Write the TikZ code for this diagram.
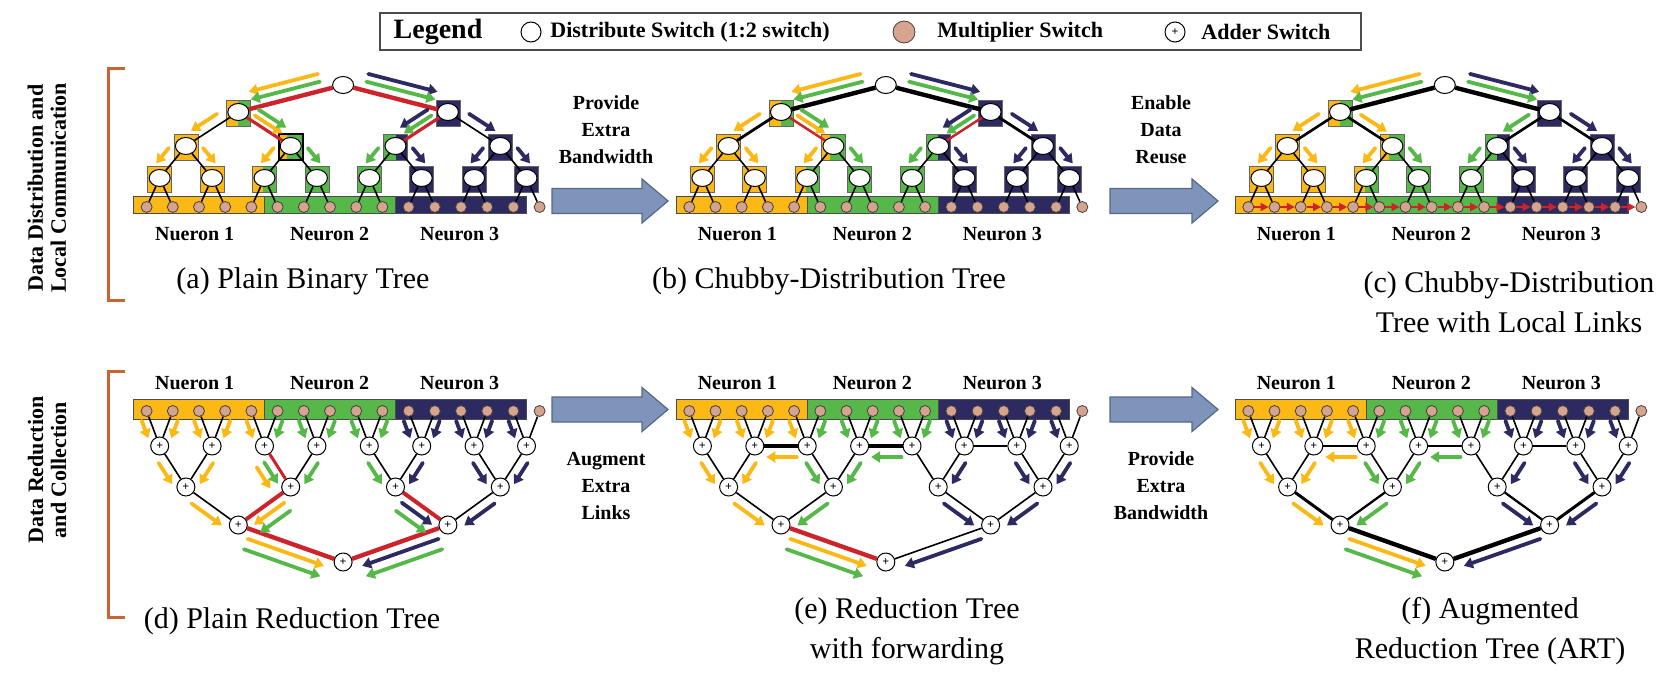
\documentclass[tikz,border=0pt]{standalone}
\usepackage{fontspec}
\setmainfont{Liberation Serif}
\usetikzlibrary{calc,arrows.meta,shapes.geometric}

\definecolor{nYel}{RGB}{252,184,21}
\definecolor{nGrn}{RGB}{86,184,72}
\definecolor{nNav}{RGB}{44,42,96}
\definecolor{nRed}{RGB}{205,35,42}
\definecolor{mulbrown}{RGB}{214,164,142}
\definecolor{brk}{RGB}{204,100,50}
\definecolor{arrowblue}{RGB}{126,148,186}
\definecolor{arrowedge}{RGB}{84,104,138}

\tikzset{
  distsw/.style={ellipse, draw, fill=white, line width=0.5pt, inner sep=0pt, minimum width=10.5pt, minimum height=8.5pt},
  mulsw/.style={circle, draw=black!75, fill=mulbrown, line width=0.4pt, inner sep=0pt, minimum size=5.5pt},
  addsw/.style={circle, draw, fill=white, line width=0.5pt, inner sep=0pt, minimum size=9pt, font=\fontsize{6}{6}\selectfont\bfseries},
  cellbox/.style={rectangle, draw=black!60, line width=0.4pt, inner sep=0pt, minimum width=12pt, minimum height=13pt},
  barseg/.style={draw=black!70, line width=0.5pt},
  link/.style={line width=0.8pt},
  flowarr/.style={line width=1.9pt, line cap=round, -{Triangle[length=4.5pt,width=5.5pt]}},
  reuse/.style={draw=nRed, line width=1.3pt, -{Triangle[length=4pt,width=4pt]}},
  bigarrow/.style={fill=arrowblue, draw=arrowedge, line width=0.6pt},
  neuron/.style={font=\fontsize{10}{12}\selectfont\bfseries},
  caption/.style={font=\fontsize{15}{20}\selectfont, align=center},
  steplabel/.style={font=\fontsize{10}{13.5}\selectfont\bfseries, align=center},
  sidelabel/.style={font=\fontsize{11}{11.5}\selectfont\bfseries, align=center, rotate=90},
  legtext/.style={font=\fontsize{11}{11}\selectfont\bfseries, anchor=west, inner sep=0pt},
  bracket/.style={draw=brk, line width=1.5pt},
}

% coloured data arrow beside a link: colour, from, to, side offset, start, end
\newcommand\flow[6]{\draw[flowarr, draw=#1] ($(#2)!#5!(#3)!#4!90:(#3)$) -- ($(#2)!#6!(#3)!#4!90:(#3)$);}

% switch box split in two colours: name, position, left colour, right colour, left share
\newcommand\swbox[5]{%
  \node[cellbox, fill=#4, path picture={\fill[fill=#3] (path picture bounding box.north west) rectangle ($(path picture bounding box.south west)!#5!(path picture bounding box.south east)$);}] (#1box) at (#2) {};}

\newcommand\bigarrow[4]{%
  \draw[bigarrow] (#1,#4-12.5) -- (#2,#4-12.5) -- (#2,#4-22) -- (#3,#4) -- (#2,#4+22) -- (#2,#4+12.5) -- (#1,#4+12.5) -- cycle;}

% distribution tree, leaves at the bottom
\newcommand\disttree[1]{%
  \draw[barseg, fill=nYel] (-13.1,196) rectangle (117.9,213.5);
  \draw[barseg, fill=nGrn] (117.9,196) rectangle (248.9,213.5);
  \draw[barseg, fill=nNav] (248.9,196) rectangle (379.9,213.5);
  \foreach \nd/\bx/\by/\lc/\rc/\fr in {u0/91.7/113/nYel/nGrn/.5,u1/301.3/113/nNav/nNav/.5,
      v0/39.3/147/nYel/nYel/.5,v1/144.1/147/nYel/nGrn/.35,v2/248.9/147/nGrn/nNav/.5,v3/353.7/147/nNav/nNav/.5,
      w0/13.1/179/nYel/nYel/.5,w1/65.5/179/nYel/nYel/.5,w2/117.9/179/nYel/nGrn/.45,w3/170.3/179/nGrn/nGrn/.5,
      w4/222.7/179/nGrn/nGrn/.5,w5/275.1/179/nNav/nNav/.5,w6/327.5/179/nNav/nNav/.5,w7/379.9/179/nNav/nNav/.5}
    {\swbox{#1\nd}{\bx,\by}{\lc}{\rc}{\fr}}
  \foreach \i in {0,...,15} {\node[mulsw] (#1m\i) at (26.2*\i,207) {};}
  \foreach \j in {0,...,7} {\node[distsw] (#1w\j) at (52.4*\j+13.1,178) {};}
  \foreach \k in {0,...,3} {\node[distsw] (#1v\k) at (104.8*\k+39.3,146) {};}
  \foreach \m in {0,1} {\node[distsw] (#1u\m) at (209.6*\m+91.7,112) {};}
  \node[distsw] (#1r) at (196.5,85) {};
  \draw[link] (#1r) -- (#1u0) (#1r) -- (#1u1);
  \foreach \k in {0,...,3} {
    \pgfmathtruncatemacro\up{\k/2}
    \pgfmathtruncatemacro\lft{2*\k}
    \pgfmathtruncatemacro\rgt{2*\k+1}
    \draw[link] (#1u\up) -- (#1v\k) (#1v\k) -- (#1w\lft) (#1v\k) -- (#1w\rgt);}
  \foreach \j in {0,...,7} {
    \pgfmathtruncatemacro\lft{2*\j}
    \pgfmathtruncatemacro\rgt{2*\j+1}
    \draw[link] (#1w\j) -- (#1m\lft) (#1w\j) -- (#1m\rgt);}
}

% reduction tree, multipliers on top
\newcommand\redtree[1]{%
  \draw[barseg, fill=nYel] (-13.1,399) rectangle (117.9,419.5);
  \draw[barseg, fill=nGrn] (117.9,399) rectangle (248.9,419.5);
  \draw[barseg, fill=nNav] (248.9,399) rectangle (379.9,419.5);
  \foreach \i in {0,...,15} {\node[mulsw] (#1m\i) at (26.2*\i,411) {};}
  \foreach \j in {0,...,7} {\node[addsw] (#1s\j) at (52.4*\j+13.1,446) {+};}
  \foreach \k in {0,...,3} {\node[addsw] (#1t\k) at (104.8*\k+39.3,487) {+};}
  \foreach \m in {0,1} {\node[addsw] (#1h\m) at (209.6*\m+91.7,525) {+};}
  \node[addsw] (#1r) at (196.5,562) {+};
  \draw[link] (#1h0) -- (#1r) (#1h1) -- (#1r);
  \foreach \k in {0,...,3} {
    \pgfmathtruncatemacro\up{\k/2}
    \pgfmathtruncatemacro\lft{2*\k}
    \pgfmathtruncatemacro\rgt{2*\k+1}
    \draw[link] (#1t\k) -- (#1h\up) (#1s\lft) -- (#1t\k) (#1s\rgt) -- (#1t\k);}
  \foreach \j in {0,...,7} {
    \pgfmathtruncatemacro\lft{2*\j}
    \pgfmathtruncatemacro\rgt{2*\j+1}
    \draw[link] (#1m\lft) -- (#1s\j) (#1m\rgt) -- (#1s\j);}
  \foreach \i/\col in {0/nYel,1/nYel,2/nYel,3/nYel,4/nYel,5/nGrn,6/nGrn,7/nGrn,8/nGrn,9/nGrn,10/nNav,11/nNav,12/nNav,13/nNav,14/nNav} {
    \pgfmathtruncatemacro\dst{\i/2}
    \pgfmathsetmacro\off{mod(\i,2)==0 ? -4 : 4}
    \flow{\col}{#1m\i}{#1s\dst}{\off pt}{0.2}{0.7}}
}

\newcommand\rootflows[1]{%
  \flow{nYel}{#1r}{#1u0}{-8.5pt}{0.2}{0.86}
  \flow{nGrn}{#1r}{#1u0}{-4.5pt}{0.2}{0.86}
  \flow{nNav}{#1r}{#1u1}{8.5pt}{0.2}{0.86}
  \flow{nGrn}{#1r}{#1u1}{4.5pt}{0.2}{0.86}
  \flow{nYel}{#1u0}{#1v0}{-5pt}{0.3}{0.8}
  \flow{nNav}{#1u1}{#1v3}{5pt}{0.3}{0.8}
  \foreach \p/\q/\col/\off in {v0/w0/nYel/-6,v0/w1/nYel/6,v1/w2/nYel/-6,v1/w3/nGrn/6,v2/w4/nGrn/-6,v2/w5/nNav/6,v3/w6/nNav/-6,v3/w7/nNav/6}
    {\flow{\col}{#1\p}{#1\q}{\off pt}{0.3}{0.78}}
}

\newcommand\fwdflows[1]{%
  \foreach \p/\q/\col/\off in {s0/t0/nYel/-5,s1/t0/nYel/5,s2/t1/nGrn/-5,s3/t1/nGrn/5,s5/t2/nNav/5,s6/t3/nNav/-5,s7/t3/nNav/5}
    {\flow{\col}{#1\p}{#1\q}{\off pt}{0.28}{0.8}}
  \flow{nYel}{#1s2}{#1s1}{5.5pt}{0.2}{0.78}
  \flow{nGrn}{#1s4}{#1s3}{5.5pt}{0.2}{0.78}
  \foreach \p/\q/\col/\off in {t0/h0/nYel/-5,t1/h0/nGrn/5,t2/h1/nNav/-5,t3/h1/nNav/5}
    {\flow{\col}{#1\p}{#1\q}{\off pt}{0.22}{0.8}}
  \flow{nYel}{#1h0}{#1r}{-5pt}{0.12}{0.85}
  \flow{nGrn}{#1h0}{#1r}{-10.5pt}{0.12}{0.85}
  \flow{nNav}{#1h1}{#1r}{5pt}{0.12}{0.85}
}

\begin{document}
\begin{tikzpicture}[x=0.5pt, y=-0.5pt]
\useasboundingbox (0,0) rectangle (1673,696);

% legend
\draw[black!70, line width=0.6pt] (380,13) rectangle (1361,50);
\node[font=\fontsize{14}{14}\selectfont\bfseries] (legtitle) at (438,32) {Legend};
\node[circle, draw, fill=white, line width=0.5pt, minimum size=10pt, inner sep=0pt] (legdist) at (531,32) {};
\node[legtext] (legdisttext) at (550,32) {Distribute Switch (1:2 switch)};
\node[mulsw, minimum size=11pt] (legmul) at (904,32) {};
\node[legtext] (legmultext) at (937,32) {Multiplier Switch};
\node[addsw, minimum size=10pt] (legadd) at (1175,32) {+};
\node[legtext] (legaddtext) at (1201,32) {Adder Switch};

% row labels
\node[sidelabel] (toprow) at (47,188) {Data Distribution and\\Local Communication};
\node[sidelabel] (botrow) at (47,470) {Data Reduction\\and Collection};
\draw[bracket] (125,68) -- (108,68) -- (108,300) -- (125,300);
\draw[bracket] (125,371) -- (108,371) -- (108,617) -- (125,617);

% step arrows
\bigarrow{552}{642}{668}{201}
\bigarrow{1110}{1192}{1218}{201}
\bigarrow{552}{642}{668}{409.5}
\bigarrow{1110}{1192}{1218}{409.5}
\node[steplabel] (stepab) at (606,130) {Provide\\Extra\\Bandwidth};
\node[steplabel] (stepbc) at (1161,130) {Enable\\Data\\Reuse};
\node[steplabel] (stepde) at (606,486) {Augment\\Extra\\Links};
\node[steplabel] (stepef) at (1161,486) {Provide\\Extra\\Bandwidth};

% (a)
\begin{scope}[shift={(146.6,0)}]
\disttree{a}
\node[cellbox, draw=black, line width=0.9pt] (av1frame) at (av1box) {};
\draw[nRed, line width=2.2pt] (ar) -- (au0) (ar) -- (au1);
\draw[nRed, line width=1.6pt] (au0) -- (av1) (au1) -- (av2);
\rootflows{a}
\flow{nYel}{au0}{av1}{3pt}{0.25}{0.78}
\flow{nGrn}{au0}{av1}{6.5pt}{0.25}{0.78}
\flow{nNav}{au1}{av2}{-6.5pt}{0.25}{0.78}
\flow{nGrn}{au1}{av2}{-3pt}{0.25}{0.78}
\node[neuron] (an1) at (48,234) {Nueron 1};
\node[neuron] (an2) at (183,234) {Neuron 2};
\node[neuron] (an3) at (313,234) {Neuron 3};
\end{scope}

% (b)
\begin{scope}[shift={(689.3,0)}]
\disttree{b}
\draw[line width=2.2pt] (br) -- (bu0) (br) -- (bu1);
\draw[line width=1.4pt] (bu0) -- (bv0) (bu1) -- (bv3);
\draw[nRed, line width=1.2pt] (bu0) -- (bv1) (bu1) -- (bv2);
\rootflows{b}
\flow{nYel}{bu0}{bv1}{3pt}{0.25}{0.78}
\flow{nGrn}{bu0}{bv1}{6.5pt}{0.25}{0.78}
\flow{nNav}{bu1}{bv2}{-6.5pt}{0.25}{0.78}
\flow{nGrn}{bu1}{bv2}{-3pt}{0.25}{0.78}
\node[neuron] (bn1) at (48,234) {Nueron 1};
\node[neuron] (bn2) at (183,234) {Neuron 2};
\node[neuron] (bn3) at (313,234) {Neuron 3};
\end{scope}

% (c)
\begin{scope}[shift={(1248.3,0)}]
\disttree{c}
\draw[line width=2.2pt] (cr) -- (cu0) (cr) -- (cu1);
\draw[line width=1.3pt] (cu0) -- (cv0) (cu0) -- (cv1) (cu1) -- (cv2) (cu1) -- (cv3);
\foreach \i in {0,...,14} {
  \pgfmathtruncatemacro\nx{\i+1}
  \draw[reuse] (cm\i) -- (cm\nx);}
\rootflows{c}
\flow{nYel}{cu0}{cv1}{4.5pt}{0.3}{0.8}
\flow{nGrn}{cu1}{cv2}{-4.5pt}{0.3}{0.8}
\node[neuron] (cn1) at (48,234) {Nueron 1};
\node[neuron] (cn2) at (183,234) {Neuron 2};
\node[neuron] (cn3) at (313,234) {Neuron 3};
\end{scope}

% (d)
\begin{scope}[shift={(146.6,0)}]
\redtree{d}
\draw[nRed, line width=1.5pt] (ds2) -- (dt1);
\draw[nRed, line width=2pt] (dt1) -- (dh0) (dt2) -- (dh1);
\draw[nRed, line width=2.2pt] (dh0) -- (dr) (dh1) -- (dr);
\foreach \p/\q/\col/\off in {s0/t0/nYel/-5,s1/t0/nYel/5,s2/t1/nYel/-9,s2/t1/nGrn/-4.5,s3/t1/nGrn/5,s4/t2/nGrn/-5,s5/t2/nNav/5,s6/t3/nNav/-5,s7/t3/nNav/5}
  {\flow{\col}{d\p}{d\q}{\off pt}{0.28}{0.8}}
\foreach \p/\q/\col/\off in {t0/h0/nYel/-5,t1/h0/nYel/4.5,t1/h0/nGrn/9.5,t2/h1/nNav/-4.5,t2/h1/nGrn/-9.5,t3/h1/nNav/5}
  {\flow{\col}{d\p}{d\q}{\off pt}{0.22}{0.8}}
\flow{nYel}{dh0}{dr}{-5pt}{0.12}{0.85}
\flow{nGrn}{dh0}{dr}{-10.5pt}{0.12}{0.85}
\flow{nNav}{dh1}{dr}{5pt}{0.12}{0.85}
\flow{nGrn}{dh1}{dr}{10.5pt}{0.12}{0.85}
\node[neuron] (dn1) at (48,383) {Nueron 1};
\node[neuron] (dn2) at (183,383) {Neuron 2};
\node[neuron] (dn3) at (313,383) {Neuron 3};
\end{scope}

% (e)
\begin{scope}[shift={(689.3,0)}]
\redtree{e}
\draw[line width=1.6pt] (es1) -- (es2) (es3) -- (es4);
\draw[link] (es5) -- (es6);
\draw[nRed, line width=2.2pt] (eh0) -- (er);
\fwdflows{e}
\node[neuron] (en1) at (48,383) {Neuron 1};
\node[neuron] (en2) at (183,383) {Neuron 2};
\node[neuron] (en3) at (313,383) {Neuron 3};
\end{scope}

% (f)
\begin{scope}[shift={(1248.3,0)}]
\redtree{f}
\draw[link] (fs1) -- (fs2) (fs3) -- (fs4) (fs5) -- (fs6);
\draw[line width=1.5pt] (ft0) -- (fh0) (ft3) -- (fh1);
\draw[line width=1.1pt] (ft1) -- (fh0) (ft2) -- (fh1);
\draw[line width=2.2pt] (fh0) -- (fr) (fh1) -- (fr);
\fwdflows{f}
\node[neuron] (fn1) at (48,383) {Neuron 1};
\node[neuron] (fn2) at (183,383) {Neuron 2};
\node[neuron] (fn3) at (313,383) {Neuron 3};
\end{scope}

% captions
\node[caption] (capa) at (303,281) {(a) Plain Binary Tree};
\node[caption] (capb) at (829,281) {(b) Chubby-Distribution Tree};
\node[caption] (capc) at (1509,302) {(c) Chubby-Distribution\\Tree with Local Links};
\node[caption] (capd) at (292,621) {(d) Plain Reduction Tree};
\node[caption] (cape) at (907,631) {(e) Reduction Tree\\with forwarding};
\node[caption] (capf) at (1490,631) {(f) Augmented\\Reduction Tree (ART)};

\end{tikzpicture}
\end{document}
